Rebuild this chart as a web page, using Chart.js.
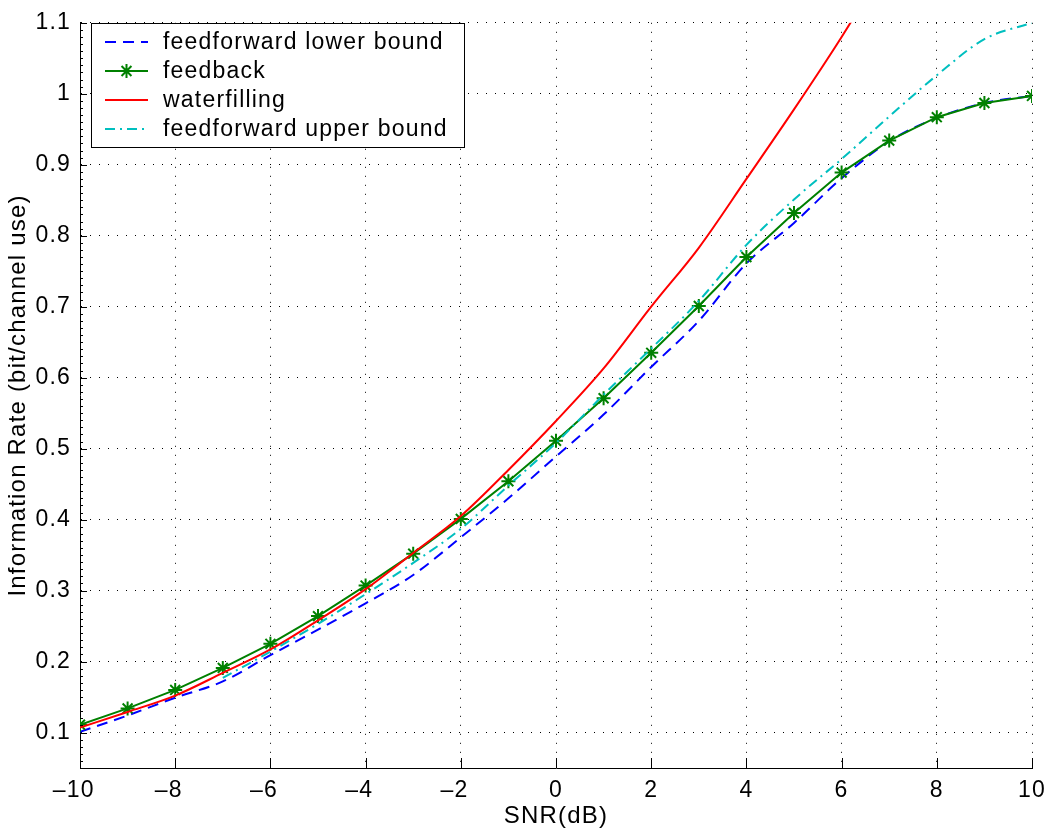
<!DOCTYPE html>
<html>
<head>
<meta charset="utf-8">
<script src="https://cdn.jsdelivr.net/npm/chart.js@4/dist/chart.umd.min.js"></script>
<style>
  html, body { margin: 0; padding: 0; background: #fff; }
  #wrap { width: 1055px; height: 831px; }
</style>
</head>
<body>
<div id="wrap"><canvas id="chart" width="1055" height="831"></canvas></div>
<script>
// SNR axis (dB) and the four curves
const snr = [-10, -9, -8, -7, -6, -5, -4, -3, -2, -1, 0, 1, 2, 3, 4, 5, 6, 7, 8, 9, 10];
const lowerBound = [0.101, 0.124, 0.149, 0.172, 0.209, 0.245, 0.282, 0.322, 0.375, 0.430, 0.489,
                    0.548, 0.615, 0.680, 0.761, 0.818, 0.881, 0.933, 0.966, 0.987, 0.997];
const feedback = [0.111, 0.134, 0.160, 0.191, 0.225, 0.264, 0.307, 0.352, 0.401, 0.454, 0.511,
                  0.571, 0.635, 0.701, 0.770, 0.832, 0.889, 0.934, 0.967, 0.987, 0.997];
const waterfilling = [0.107, 0.129, 0.152, 0.184, 0.217, 0.258, 0.302, 0.353, 0.405, 0.470, 0.539,
                      0.613, 0.700, 0.783, 0.880, 0.978, 1.080, 1.190, null, null, null];
const upperBound = [null, null, null, 0.177, 0.214, 0.253, 0.295, 0.339, 0.387, 0.448, 0.508,
                    0.576, 0.641, 0.708, 0.787, 0.851, 0.908, 0.968, 1.026, 1.077, 1.100];

const xTicks = [-10, -8, -6, -4, -2, 0, 2, 4, 6, 8, 10];
const yTicks = [0.1, 0.2, 0.3, 0.4, 0.5, 0.6, 0.7, 0.8, 0.9, 1, 1.1];

const FONT = "'Liberation Sans', Arial, Helvetica, sans-serif";
const SPACING = '1.2px';

function pts(vals) {
    const out = [];
    vals.forEach((v, i) => { if (v !== null) out.push({ x: snr[i], y: v }); });
    return out;
}

// the original text is a bit more loosely set than Liberation Sans
const looseText = {
    id: 'looseText',
    beforeLayout(chart) { chart.ctx.letterSpacing = SPACING; },
    beforeDraw(chart) { chart.ctx.letterSpacing = SPACING; }
};

// inward ticks on left/bottom axes + minor ticks on y
const axisTicks = {
    id: 'axisTicks',
    afterDraw(chart) {
        const { ctx, chartArea: a, scales: { x, y } } = chart;
        ctx.save();
        ctx.strokeStyle = '#000';
        ctx.lineWidth = 1;
        ctx.beginPath();
        for (let k = 5; k <= 110; k++) {
            const py = Math.round(y.getPixelForValue(k / 100)) + 0.5;
            const len = (k % 10 === 0) ? 7 : 3;
            ctx.moveTo(a.left, py);
            ctx.lineTo(a.left + len, py);
        }
        xTicks.forEach(v => {
            const px = Math.round(x.getPixelForValue(v)) + 0.5;
            ctx.moveTo(px, a.bottom);
            ctx.lineTo(px, a.bottom - 10);
        });
        ctx.stroke();
        ctx.restore();
    }
};

// boxed legend in the upper-left corner, MATLAB style
const boxLegend = {
    id: 'boxLegend',
    afterDraw(chart) {
        const { ctx } = chart;
        const bx = 91, by = 23, bw = 373, bh = 124;
        ctx.save();
        ctx.fillStyle = '#fff';
        ctx.fillRect(bx, by, bw, bh);
        ctx.strokeStyle = '#000';
        ctx.lineWidth = 1;
        ctx.strokeRect(bx + 0.5, by + 0.5, bw, bh);
        ctx.font = '23px ' + FONT;
        ctx.letterSpacing = SPACING;
        ctx.textBaseline = 'middle';
        chart.data.datasets.forEach((ds, i) => {
            const cy = 42 + i * 29;
            ctx.strokeStyle = ds.borderColor;
            ctx.lineWidth = ds.borderWidth;
            ctx.setLineDash(ds.borderDash || []);
            ctx.beginPath();
            ctx.moveTo(105, cy);
            ctx.lineTo(148, cy);
            ctx.stroke();
            ctx.setLineDash([]);
            if (ds.pointRadius > 0) {
                const r = ds.pointRadius;
                ctx.lineWidth = ds.pointBorderWidth;
                ctx.beginPath();
                ctx.moveTo(126.5 - r, cy); ctx.lineTo(126.5 + r, cy);
                ctx.moveTo(126.5, cy - r); ctx.lineTo(126.5, cy + r);
                const d = r * 0.707;
                ctx.moveTo(126.5 - d, cy - d); ctx.lineTo(126.5 + d, cy + d);
                ctx.moveTo(126.5 - d, cy + d); ctx.lineTo(126.5 + d, cy - d);
                ctx.stroke();
            }
            ctx.fillStyle = '#000';
            ctx.fillText(ds.label, 163, cy + 1);
        });
        ctx.restore();
    }
};

const ctx = document.getElementById('chart').getContext('2d');
new Chart(ctx, {
    type: 'line',
    data: {
        datasets: [{
            label: 'feedforward lower bound',
            data: pts(lowerBound),
            borderColor: '#0000ff',
            borderWidth: 2,
            borderDash: [11, 7],
            pointRadius: 0,
            cubicInterpolationMode: 'monotone',
            order: 4
        }, {
            label: 'feedback',
            data: pts(feedback),
            borderColor: '#008000',
            backgroundColor: '#008000',
            borderWidth: 2,
            pointStyle: 'star',
            pointRadius: 7,
            pointBorderWidth: 2,
            pointBorderColor: '#008000',
            order: 3
        }, {
            label: 'waterfilling',
            data: pts(waterfilling),
            borderColor: '#ff0000',
            borderWidth: 2,
            pointRadius: 0,
            cubicInterpolationMode: 'monotone',
            order: 2
        }, {
            label: 'feedforward upper bound',
            data: pts(upperBound),
            borderColor: '#00bfbf',
            borderWidth: 2,
            borderDash: [10, 5, 2, 5],
            pointRadius: 0,
            cubicInterpolationMode: 'monotone',
            order: 1
        }]
    },
    options: {
        responsive: false,
        animation: false,
        layout: { padding: { top: 14, right: 17, left: 0, bottom: 0 } },
        plugins: {
            legend: { display: false },
            tooltip: { enabled: false }
        },
        scales: {
            x: {
                type: 'linear',
                min: -10,
                max: 10,
                afterBuildTicks: s => { s.ticks = xTicks.map(v => ({ value: v })); },
                afterFit: s => { s.height = 63; },
                ticks: {
                    color: '#000',
                    font: { family: FONT, size: 23 },
                    padding: 9,
                    maxRotation: 0,
                    // digits sit on the tick, the dash hangs to the left
                    callback: v => (v < 0 ? '\u2013' + Math.abs(v) + '\u2002' : String(v))
                },
                grid: { color: '#000', lineWidth: 1, drawTicks: false },
                border: { display: true, color: '#000', width: 1, dash: [1, 8] },
                title: {
                    display: true,
                    text: 'SNR(dB)',
                    color: '#000',
                    font: { family: FONT, size: 24 },
                    padding: { top: 0, bottom: 0 }
                }
            },
            y: {
                type: 'linear',
                min: 0.05,
                max: 1.1,
                afterBuildTicks: s => { s.ticks = yTicks.map(v => ({ value: v })); },
                afterFit: s => { s.width = 80; },
                ticks: {
                    color: '#000',
                    font: { family: FONT, size: 23 },
                    padding: 9,
                    callback: v => String(Math.round(v * 10) / 10)
                },
                grid: { color: '#000', lineWidth: 1, drawTicks: false },
                border: { display: true, color: '#000', width: 1, dash: [1, 8] },
                title: {
                    display: true,
                    text: 'Information Rate (bit/channel use)',
                    color: '#000',
                    font: { family: FONT, size: 24 },
                    padding: { top: 4, bottom: 0 }
                }
            }
        }
    },
    plugins: [looseText, axisTicks, boxLegend]
});
</script>
</body>
</html>
